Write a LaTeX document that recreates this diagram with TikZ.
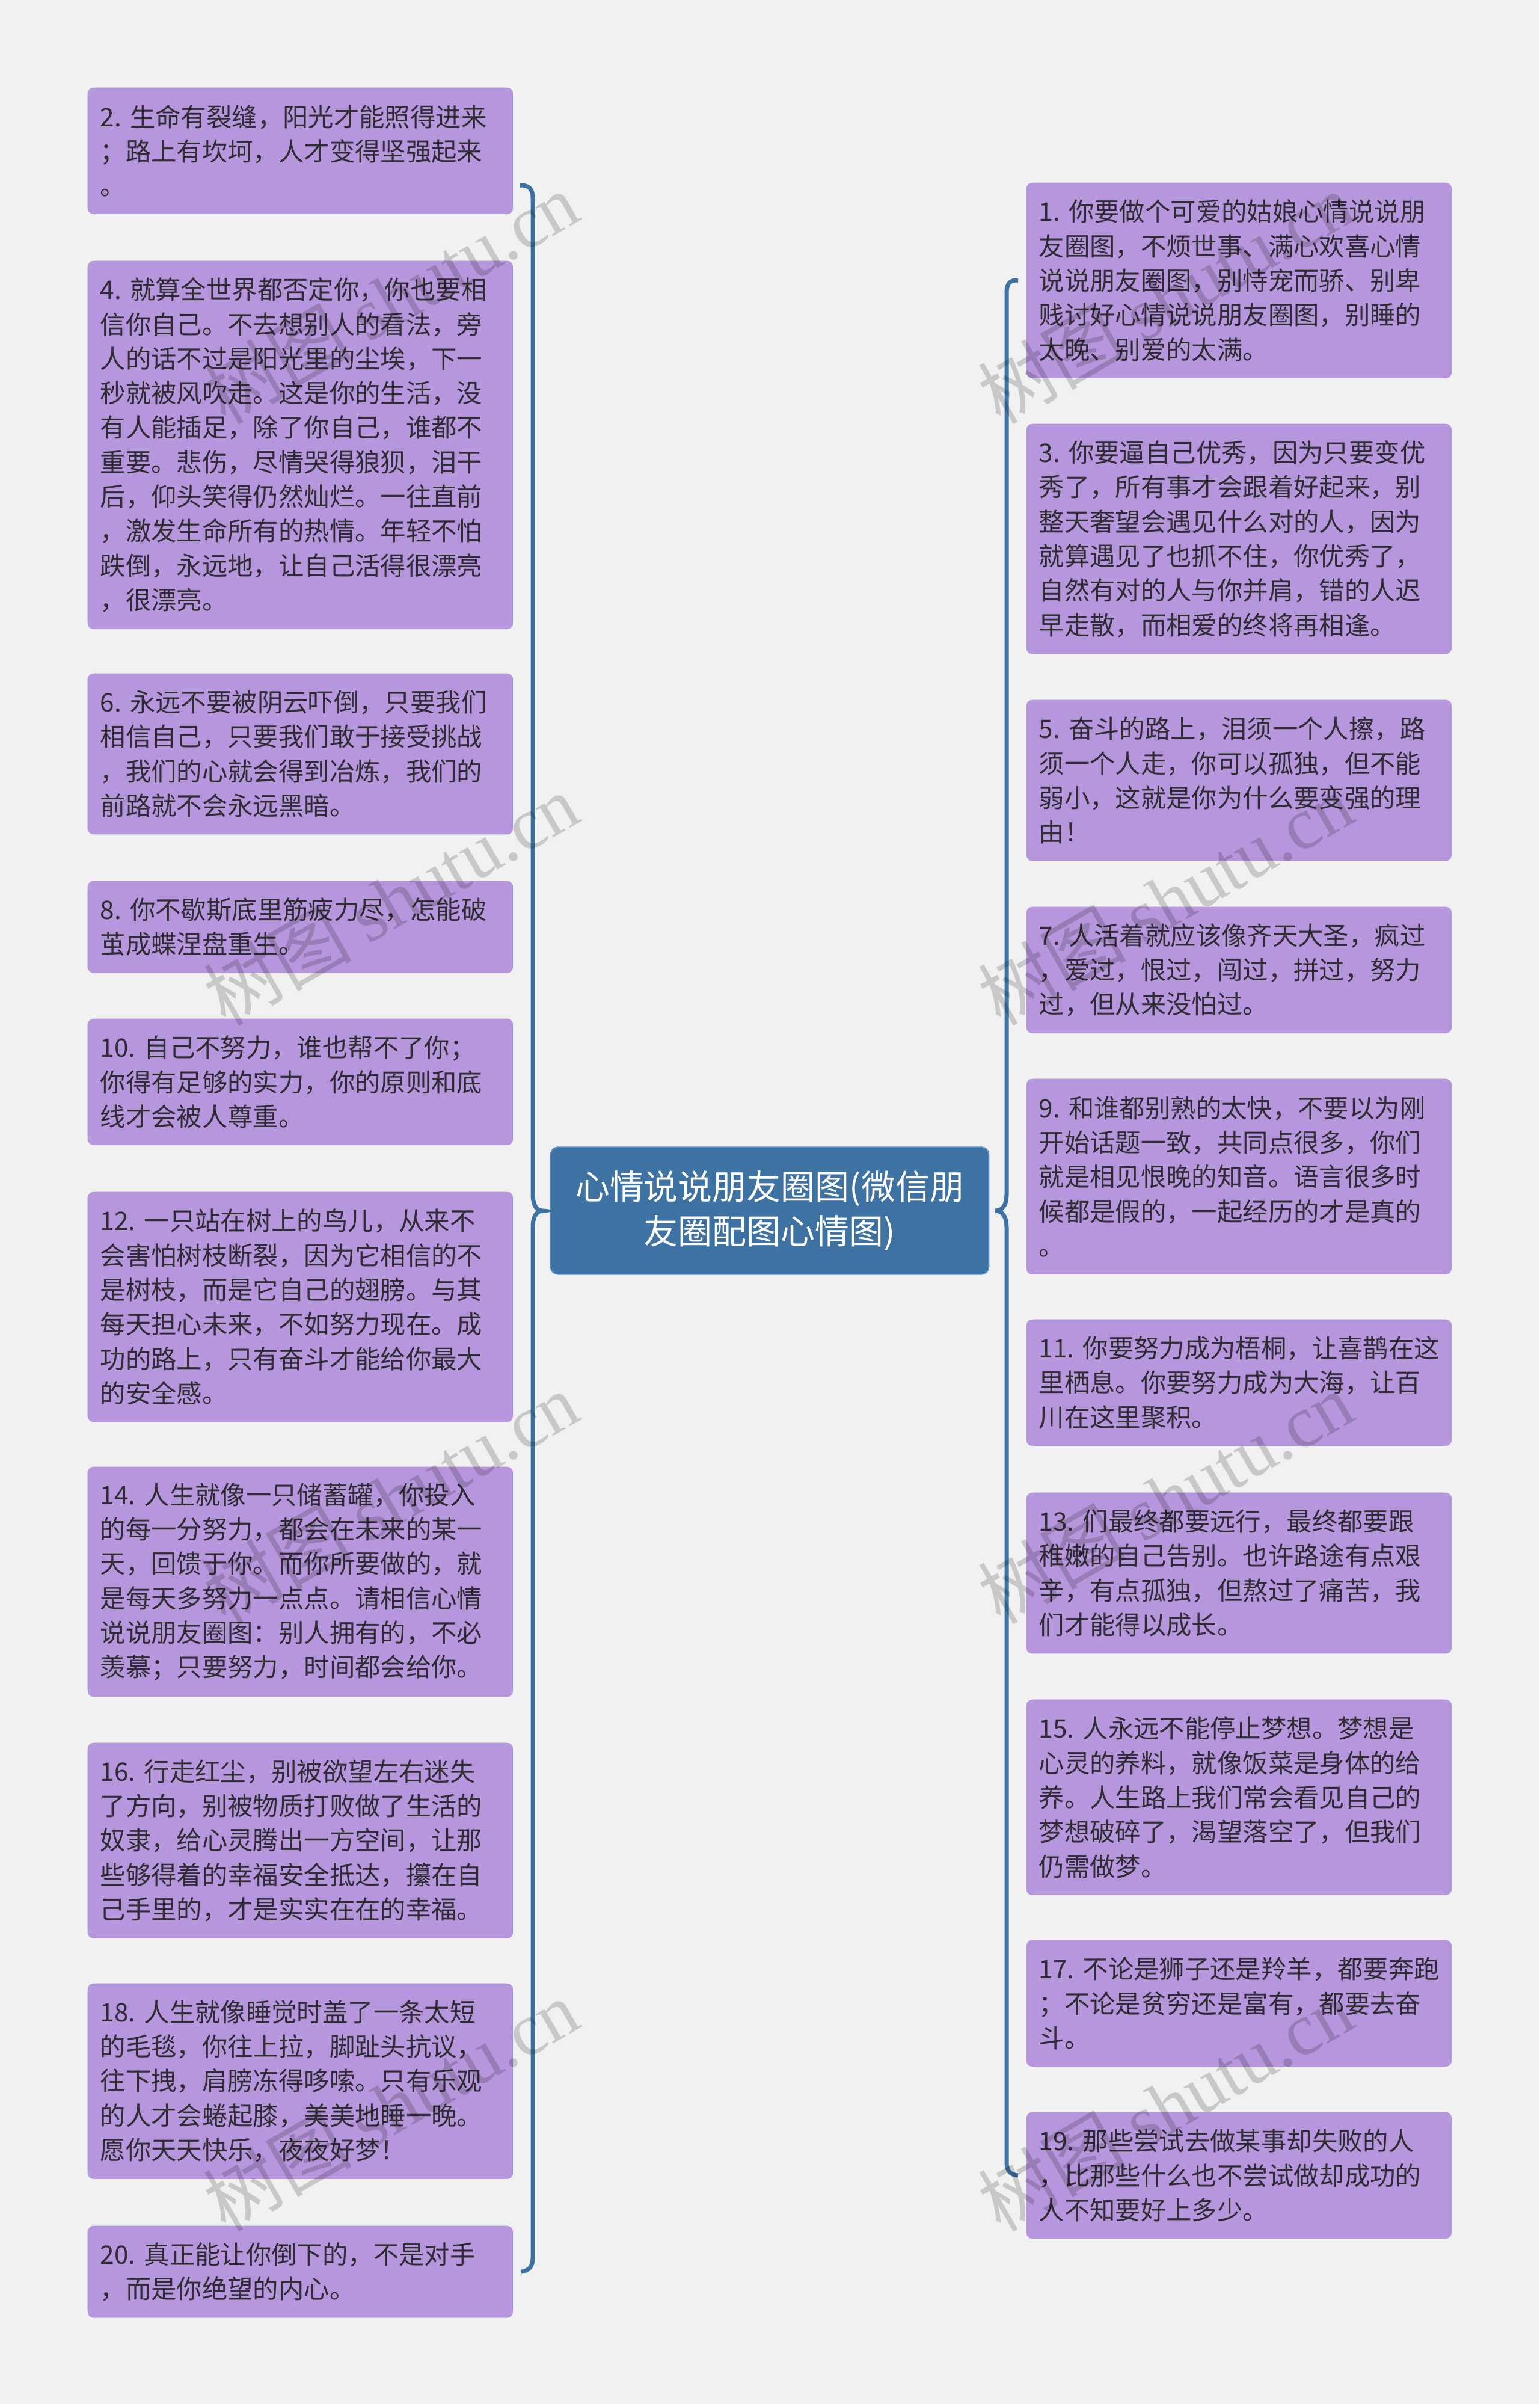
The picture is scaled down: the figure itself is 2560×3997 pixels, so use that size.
\documentclass[tikz,border=0pt]{standalone}
\usepackage{fontspec}
\setmainfont{Noto Sans CJK SC}
\newfontfamily\wmserif{Liberation Serif}
\usetikzlibrary{positioning}
\definecolor{bgc}{RGB}{241,241,241}
\definecolor{leafc}{RGB}{182,150,220}
\definecolor{txt}{RGB}{48,44,52}
\definecolor{rootc}{RGB}{62,114,163}
\definecolor{rootb}{RGB}{78,140,205}
\definecolor{linec}{RGB}{62,114,163}

\begin{document}
\begin{tikzpicture}[
  x=0.01cm, y=-0.01cm,
  leaf/.style={fill=leafc, rounded corners=0.1cm, anchor=north west,
               text width=6.65cm, inner xsep=0.21cm, inner ysep=0pt,
               align=left, text=txt,
               font=\fontsize{12.05pt}{16.3pt}\selectfont,
               minimum height={#1*0.574cm+0.38cm}},
  root/.style={fill=rootc, draw=rootb, line width=0.6pt, rounded corners=0.12cm,
               minimum width=7.28cm, minimum height=2.11cm, align=center,
               text=white, font=\fontsize{16.2pt}{21pt}\selectfont},
  brace/.style={draw=linec, line width=0.07cm},
  wm/.style={rotate=30, text=black, text opacity=0.17,
             font=\fontsize{35pt}{40pt}\selectfont},
]
\useasboundingbox (0,0) rectangle (2560,3997);
\fill[bgc] (0,0) rectangle (2560,3997);

\node[root] (root) at (1280,2013) {心情说说朋友圈图(微信朋\\友圈配图心情图)};

\node[leaf=3] (q2) at (145,145) {2.~生命有裂缝，阳光才能照得进来\\；路上有坎坷，人才变得坚强起来\\。};
\node[leaf=10] (q4) at (145,433) {4.~就算全世界都否定你，你也要相\\信你自己。不去想别人的看法，旁\\人的话不过是阳光里的尘埃，下一\\秒就被风吹走。这是你的生活，没\\有人能插足，除了你自己，谁都不\\重要。悲伤，尽情哭得狼狈，泪干\\后，仰头笑得仍然灿烂。一往直前\\，激发生命所有的热情。年轻不怕\\跌倒，永远地，让自己活得很漂亮\\，很漂亮。};
\node[leaf=4] (q6) at (145,1119) {6.~永远不要被阴云吓倒，只要我们\\相信自己，只要我们敢于接受挑战\\，我们的心就会得到冶炼，我们的\\前路就不会永远黑暗。};
\node[leaf=2] (q8) at (145,1464) {8.~你不歇斯底里筋疲力尽，怎能破\\茧成蝶涅盘重生。};
\node[leaf=3] (q10) at (145,1693) {10.~自己不努力，谁也帮不了你；\\你得有足够的实力，你的原则和底\\线才会被人尊重。};
\node[leaf=6] (q12) at (145,1981) {12.~一只站在树上的鸟儿，从来不\\会害怕树枝断裂，因为它相信的不\\是树枝，而是它自己的翅膀。与其\\每天担心未来，不如努力现在。成\\功的路上，只有奋斗才能给你最大\\的安全感。};
\node[leaf=6] (q14) at (145,2438) {14.~人生就像一只储蓄罐，你投入\\的每一分努力，都会在未来的某一\\天，回馈于你。而你所要做的，就\\是每天多努力一点点。请相信心情\\说说朋友圈图：别人拥有的，不必\\羡慕；只要努力，时间都会给你。};
\node[leaf=5] (q16) at (145,2897) {16.~行走红尘，别被欲望左右迷失\\了方向，别被物质打败做了生活的\\奴隶，给心灵腾出一方空间，让那\\些够得着的幸福安全抵达，攥在自\\己手里的，才是实实在在的幸福。};
\node[leaf=5] (q18) at (145,3297) {18.~人生就像睡觉时盖了一条太短\\的毛毯，你往上拉，脚趾头抗议，\\往下拽，肩膀冻得哆嗦。只有乐观\\的人才会蜷起膝，美美地睡一晚。\\愿你天天快乐，夜夜好梦！};
\node[leaf=2] (q20) at (145,3700) {20.~真正能让你倒下的，不是对手\\，而是你绝望的内心。};

\node[leaf=5] (q1) at (1706,303) {1.~你要做个可爱的姑娘心情说说朋\\友圈图，不烦世事、满心欢喜心情\\说说朋友圈图，别恃宠而骄、别卑\\贱讨好心情说说朋友圈图，别睡的\\太晚、别爱的太满。};
\node[leaf=6] (q3) at (1706,704) {3.~你要逼自己优秀，因为只要变优\\秀了，所有事才会跟着好起来，别\\整天奢望会遇见什么对的人，因为\\就算遇见了也抓不住，你优秀了，\\自然有对的人与你并肩，错的人迟\\早走散，而相爱的终将再相逢。};
\node[leaf=4] (q5) at (1706,1163) {5.~奋斗的路上，泪须一个人擦，路\\须一个人走，你可以孤独，但不能\\弱小，这就是你为什么要变强的理\\由！};
\node[leaf=3] (q7) at (1706,1507) {7.~人活着就应该像齐天大圣，疯过\\，爱过，恨过，闯过，拼过，努力\\过，但从来没怕过。};
\node[leaf=5] (q9) at (1706,1793) {9.~和谁都别熟的太快，不要以为刚\\开始话题一致，共同点很多，你们\\就是相见恨晚的知音。语言很多时\\候都是假的，一起经历的才是真的\\。};
\node[leaf=3] (q11) at (1706,2193) {11.~你要努力成为梧桐，让喜鹊在这\\里栖息。你要努力成为大海，让百\\川在这里聚积。};
\node[leaf=4] (q13) at (1706,2481) {13.~们最终都要远行，最终都要跟\\稚嫩的自己告别。也许路途有点艰\\辛，有点孤独，但熬过了痛苦，我\\们才能得以成长。};
\node[leaf=5] (q15) at (1706,2825) {15.~人永远不能停止梦想。梦想是\\心灵的养料，就像饭菜是身体的给\\养。人生路上我们常会看见自己的\\梦想破碎了，渴望落空了，但我们\\仍需做梦。};
\node[leaf=3] (q17) at (1706,3225) {17.~不论是狮子还是羚羊，都要奔跑\\；不论是贫穷还是富有，都要去奋\\斗。};
\node[leaf=3] (q19) at (1706,3511) {19.~那些尝试去做某事却失败的人\\，比那些什么也不尝试做却成功的\\人不知要好上多少。};

\coordinate (lTop) at (865,308);
\coordinate (lBot) at ([xshift=0.13cm]q20.east);
\coordinate (lTip) at ([xshift=-0.12cm]root.west);
\coordinate (rTop) at ([xshift=-0.13cm]q1.west);
\coordinate (rBot) at ([xshift=-0.13cm]q19.west);
\coordinate (rTip) at ([xshift=0.1cm]root.east);

\draw[brace] (lTop) .. controls (880,308) and (886,314) .. (886,330)
  -- (886,1985) .. controls (886,2005) and (893,2013) .. (lTip)
  .. controls (893,2013) and (886,2021) .. (886,2041)
  -- (886,3753) .. controls (886,3769) and (880,3775) .. (lBot);
\draw[brace] (rTop) .. controls (1680,465) and (1674,471) .. (1674,487)
  -- (1674,1985) .. controls (1674,2005) and (1666,2013) .. (rTip)
  .. controls (1666,2013) and (1674,2021) .. (1674,2041)
  -- (1674,3594) .. controls (1674,3610) and (1680,3616) .. (rBot);

\foreach \wy [count=\i] in {495,1495,2490,3500} {
  \node[wm] (wmL\i) at (650,\wy) {树图 {\wmserif shutu.cn}};
  \node[wm] (wmR\i) at (1938,\wy) {树图 {\wmserif shutu.cn}};
}
\end{tikzpicture}
\end{document}
